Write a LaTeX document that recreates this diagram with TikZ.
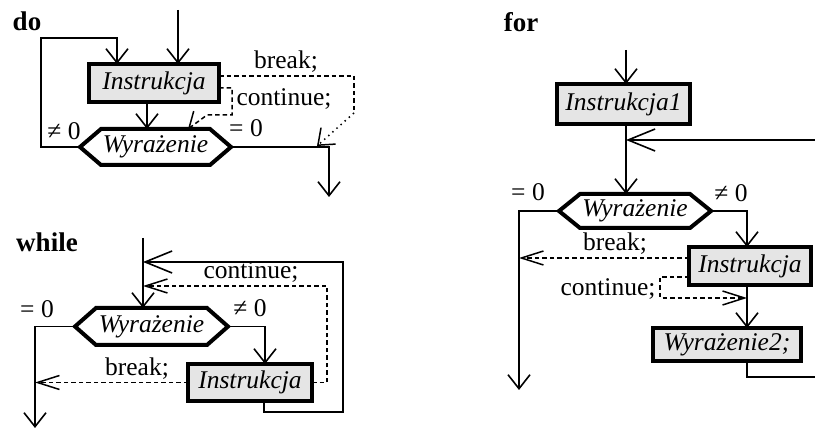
\documentclass[tikz,border=0pt]{standalone}
\usepackage{fontspec}
\setmainfont{Liberation Serif}
\usetikzlibrary{arrows.meta}
\definecolor{boxgray}{RGB}{229,229,229}
% outline of a hexagonal decision node drawn around a named node
\newcommand\hexoutline[1]{%
  \draw[line width=4pt, line join=miter]
    (#1.west) -- ([xshift=21pt]#1.north west) -- ([xshift=-21pt]#1.north east)
    -- (#1.east) -- ([xshift=-21pt]#1.south east) -- ([xshift=21pt]#1.south west) -- cycle;}
\tikzset{
  flow/.style={line width=1.6pt},
  dashline/.style={line width=1.5pt, dash pattern=on 4.5pt off 3pt},
  dotline/.style={line width=1.5pt, dash pattern=on 1.5pt off 4pt},
  arrS/.style={-{Straight Barb[length=14pt,width=22pt]}},
  arrL/.style={-{Straight Barb[length=27pt,width=22pt]}},
  arrD/.style={-{Straight Barb[length=22pt,width=14pt]}},
  box/.style={draw, line width=4pt, fill=boxgray, inner sep=0pt, outer sep=0pt,
    font=\itshape\fontsize{25.5}{30}\selectfont},
  hexa/.style={inner sep=0pt, outer sep=0pt, fill=white,
    font=\itshape\fontsize{25.5}{30}\selectfont},
  lbl/.style={inner sep=0pt, font=\fontsize{25.5}{30}\selectfont},
  ttl/.style={inner sep=0pt, font=\bfseries\fontsize{27}{32}\selectfont},
}
\begin{document}
\begin{tikzpicture}[x=1pt, y=-1pt]
\useasboundingbox (0,0) rectangle (815,430);

% ---------------- do ----------------
\node[ttl] (tdo) at (27,21) {do};
\node[box, minimum width=130pt, minimum height=38pt] (b1) at (154,83) {Instrukcja};
\node[hexa, minimum width=151pt, minimum height=36pt] (h1) at (155.5,147) {Wyrażenie};
\hexoutline{h1}
\coordinate (doin) at (178,10);
\coordinate (doleft) at (41,38);
\coordinate (doout) at (329,197);
\coordinate (dobk) at (354,113);
\coordinate (dobrk) at (317,146);
\coordinate (doc1) at (232,115);
\coordinate (doc2) at (207,115);
\draw[flow, arrS] (doin) -- (b1.north -| doin);
\draw[flow, arrS] (h1.west) -| (doleft) -| ([xshift=-37pt]b1.north);
\draw[flow, arrS] ([xshift=-7pt]b1.south) -- ([xshift=-8.5pt]h1.north);
\draw[flow, arrS] (h1.east) -| (doout);
\draw[dashline] ([yshift=7pt]b1.east) -| (dobk);
\draw[dotline, arrS] (dobk) -- (dobrk);
\draw[dashline, arrS] ([yshift=-5pt]b1.east) -| (doc1) -- (doc2) -- ([xshift=32.5pt]h1.north);
\node[lbl] (dobl) at (286,62) {break;};
\node[lbl] (docl) at (284,99) {continue;};
\node[lbl] (done) at (64,131) {≠ 0};
\node[lbl] (doeq) at (246,128) {= 0};

% ---------------- while ----------------
\node[ttl] (twh) at (47,242) {while};
\node[hexa, minimum width=153pt, minimum height=37pt] (h2) at (151.5,326.5) {Wyrażenie};
\hexoutline{h2}
\node[box, minimum width=124pt, minimum height=37pt] (b2) at (250,382.5) {Instrukcja};
\coordinate (whin) at (143,238);
\coordinate (whout) at (35,428);
\coordinate (whr) at (343,412);
\coordinate (whtop) at (143,262);
\coordinate (whc) at (327,286);
\draw[flow, arrS] (whin) -- (h2.north -| whin);
\draw[flow, arrS] (h2.west) -| (whout);
\draw[flow, arrS] (h2.east) -| ([xshift=15pt]b2.north);
\draw[flow, arrL] ([xshift=14pt]b2.south) |- (whr) |- (whtop);
\draw[dashline, arrD] (b2.east) -| (whc) -- (whc -| whin);
\draw[dashline, arrD] (b2.west) -- (b2.west -| whout);
\node[lbl] (wheq) at (37,309) {= 0};
\node[lbl] (whne) at (250,308) {≠ 0};
\node[lbl] (whcl) at (251,272) {continue;};
\node[lbl] (whbl) at (137,369) {break;};

% ---------------- for ----------------
\node[ttl] (tfor) at (521,22) {for};
\node[box, minimum width=133pt, minimum height=40pt] (b3) at (623.5,104) {Instrukcja1};
\node[hexa, minimum width=152pt, minimum height=34pt] (h3) at (635,211) {Wyrażenie};
\hexoutline{h3}
\node[box, minimum width=122pt, minimum height=38pt] (b4) at (750,266) {Instrukcja};
\node[box, minimum width=148pt, minimum height=33pt] (b5) at (727,344.5) {Wyrażenie2;};
\coordinate (forin) at (626,50);
\coordinate (forret) at (626,140);
\coordinate (forbot) at (820,377);
\coordinate (forout) at (519,390);
\coordinate (forcol) at (747,0);
\coordinate (forc) at (660,298);
\draw[flow, arrS] (forin) -- (b3.north -| forin);
\draw[flow, arrS] (b3.south -| forin) -- (h3.north -| forin);
\draw[flow, arrL] (b5.south -| forcol) |- (forbot) |- (forret);
\draw[flow, arrS] (h3.west) -| (forout);
\draw[flow, arrS] (h3.east) -| (b4.north -| forcol);
\draw[flow, arrS] (b4.south -| forcol) -- (b5.north -| forcol);
\draw[dashline, arrD] ([yshift=8pt]b4.west) -- ([yshift=8pt]b4.west -| forout);
\draw[dashline, arrD] ([yshift=-11pt]b4.west) -| (forc) -- (forc -| forcol);
\node[lbl] (foreq) at (528,192) {= 0};
\node[lbl] (forne) at (731,193) {≠ 0};
\node[lbl] (forbl) at (615,244) {break;};
\node[lbl] (forcl) at (608,289) {continue;};
\end{tikzpicture}
\end{document}
